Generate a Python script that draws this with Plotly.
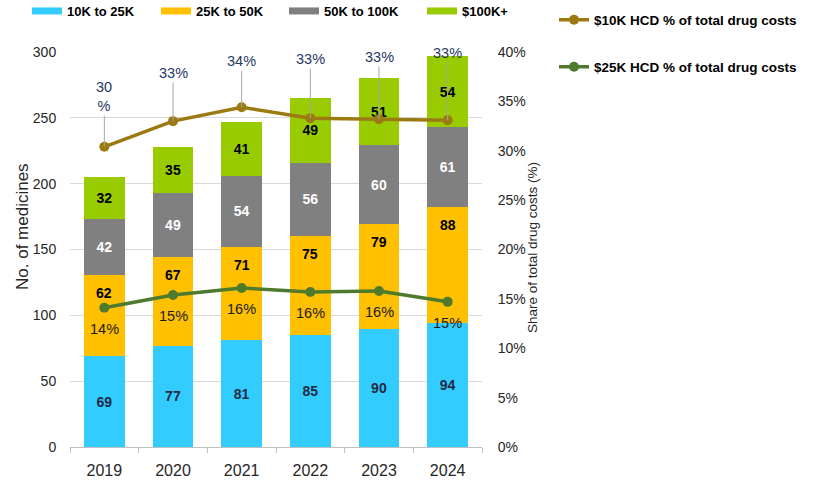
import plotly.graph_objects as go

# ---------------- data ----------------
years = ["2019", "2020", "2021", "2022", "2023", "2024"]
cnt_10k_25k = [69, 77, 81, 85, 90, 94]
cnt_25k_50k = [62, 67, 71, 75, 79, 88]
cnt_50k_100k = [42, 49, 54, 56, 60, 61]
cnt_100k_plus = [32, 35, 41, 49, 51, 54]
hcd10_pct = [30.4, 33.0, 34.4, 33.3, 33.2, 33.1]
hcd25_pct = [14.1, 15.4, 16.1, 15.7, 15.8, 14.7]
left_ticks = [0, 50, 100, 150, 200, 250, 300]
right_ticks = [0, 5, 10, 15, 20, 25, 30, 35, 40]
right_tick_text = [f"{v}%" for v in right_ticks]

bar_names = ["10K to 25K", "25K to 50K", "50K to 100K", "$100K+"]
line_names = ["$10K HCD % of total drug costs", "$25K HCD % of total drug costs"]

# ---------------- styles ----------------
FONT = "Liberation Sans, Arial, sans-serif"
bar_colors = ["#33CCFF", "#FFC000", "#808080", "#99CC00"]
bar_text_colors = ["#1F2A44", "#000000", "#FFFFFF", "#000000"]
line_colors = ["#9C7A12", "#4E7A2E"]

W, H = 823, 485
PL, PR, PT, PB = 70, 482, 52, 447   # plot area in px


def px_x(px):
    return (px - PL) / (PR - PL)


def px_y(py):
    return (PB - py) / (PB - PT)


fig = go.Figure()

series = [cnt_10k_25k, cnt_25k_50k, cnt_50k_100k, cnt_100k_plus]
for i, (name, vals) in enumerate(zip(bar_names, series)):
    fig.add_trace(go.Bar(
        x=years, y=vals, name=name,
        marker=dict(color=bar_colors[i], line=dict(width=0)),
        text=[str(v) for v in vals] if i != 1 else None,
        textposition="inside" if i != 1 else "none",
        insidetextanchor="middle",
        textangle=0,
        constraintext="none",
        textfont=dict(family=FONT, size=14, color=bar_text_colors[i], weight="bold"),
        showlegend=False,
    ))

# lines on secondary axis
for j, (name, vals) in enumerate(zip(line_names, [hcd10_pct, hcd25_pct])):
    fig.add_trace(go.Scatter(
        x=years, y=vals, name=name, yaxis="y2",
        mode="lines+markers",
        line=dict(color=line_colors[j], width=3.5),
        marker=dict(color=line_colors[j], size=10),
        legend="legend" if j == 0 else "legend2",
    ))

# legend-only entries for the bar series (wide swatches)
bar_legends = ["legend3", "legend4", "legend5", "legend6"]
for i, name in enumerate(bar_names):
    fig.add_trace(go.Scatter(
        x=[years[0]], y=[None], name=name, mode="lines",
        line=dict(color=bar_colors[i], width=7),
        legend=bar_legends[i], hoverinfo="skip",
    ))

annotations = []
# orange segment labels (near top of segment); x as category index
for i in range(len(years)):
    top = cnt_10k_25k[i] + cnt_25k_50k[i]
    annotations.append(dict(
        x=i, y=top, xref="x", yref="y", text=str(cnt_25k_50k[i]),
        showarrow=False, yshift=-18,
        font=dict(family=FONT, size=14, color="#000000", weight="bold"),
    ))

# $10K line labels with leader lines
lead_offsets = [-50, -48, -46, -59, -62, -67]
for i in range(len(years)):
    txt = f"{round(hcd10_pct[i])}%"
    if i == 0:
        txt = f"{round(hcd10_pct[i])}<br>%"
    annotations.append(dict(
        x=i, y=hcd10_pct[i], xref="x", yref="y2", text=txt,
        showarrow=True, arrowhead=0, arrowwidth=1, arrowcolor="#A6A6A6",
        ax=0, ay=lead_offsets[i], standoff=0,
        font=dict(family=FONT, size=14.5, color="#1F3864"),
    ))

# $25K line labels below points
for i in range(len(years)):
    annotations.append(dict(
        x=i, y=hcd25_pct[i], xref="x", yref="y2", text=f"{round(hcd25_pct[i])}%",
        showarrow=False, yshift=-21,
        font=dict(family=FONT, size=14.5, color="#1A1A1A"),
    ))

# axis titles
annotations.append(dict(
    x=px_x(22), y=px_y(227), xref="paper", yref="paper", text="No. of medicines",
    textangle=-90, showarrow=False, xanchor="center", yanchor="middle",
    font=dict(family=FONT, size=17, color="#262626"),
))
annotations.append(dict(
    x=px_x(532), y=px_y(248), xref="paper", yref="paper",
    text="Share of total drug costs (%)",
    textangle=-90, showarrow=False, xanchor="center", yanchor="middle",
    font=dict(family=FONT, size=13.5, color="#262626"),
))

legend_font = dict(family=FONT, size=13.5, color="#000000", weight="bold")
bar_font = dict(family=FONT, size=13, color="#000000", weight="bold")


def leg(xpx, ypx, font):
    return dict(
        x=px_x(xpx - 5), y=px_y(ypx), xanchor="left", yanchor="middle",
        orientation="v", bgcolor="rgba(0,0,0,0)", borderwidth=0,
        font=font, itemclick=False, itemdoubleclick=False,
    )


fig.update_layout(
    width=W, height=H,
    margin=dict(l=PL, r=W - PR, t=PT, b=H - PB, pad=0, autoexpand=False),
    paper_bgcolor="white", plot_bgcolor="white",
    barmode="stack", bargap=0.41,
    font=dict(family=FONT, size=14, color="#262626"),
    xaxis=dict(
        type="category", categoryorder="array", categoryarray=years,
        range=[-0.5, len(years) - 0.5],
        showgrid=False, showline=True, linecolor="#BFBFBF",
        linewidth=1, ticks="outside", tickson="boundaries", ticklen=5,
        tickcolor="#BFBFBF", tickangle=0, ticklabelstandoff=9,
        tickfont=dict(family=FONT, size=16, color="#262626"),
    ),
    yaxis=dict(
        range=[0, 300], tickvals=left_ticks, showgrid=True, gridcolor="#D9D9D9",
        gridwidth=1, zeroline=False, showline=False, ticks="outside",
        ticklen=10, tickcolor="rgba(0,0,0,0)",
        tickfont=dict(family=FONT, size=14, color="#262626"),
    ),
    yaxis2=dict(
        range=[0, 40], tickmode="array", tickvals=right_ticks, ticktext=right_tick_text,
        overlaying="y", side="right", showgrid=False, zeroline=False, showline=False,
        ticks="outside", ticklen=12, tickcolor="rgba(0,0,0,0)",
        tickfont=dict(family=FONT, size=14, color="#262626"),
    ),
    legend=leg(559, 20, legend_font),
    legend2=leg(559, 67, legend_font),
    legend3=leg(32, 11, bar_font),
    legend4=leg(161, 11, bar_font),
    legend5=leg(289, 11, bar_font),
    legend6=leg(427, 11, bar_font),
    annotations=annotations,
    hovermode="closest",
)

fig.write_html("out.html")
